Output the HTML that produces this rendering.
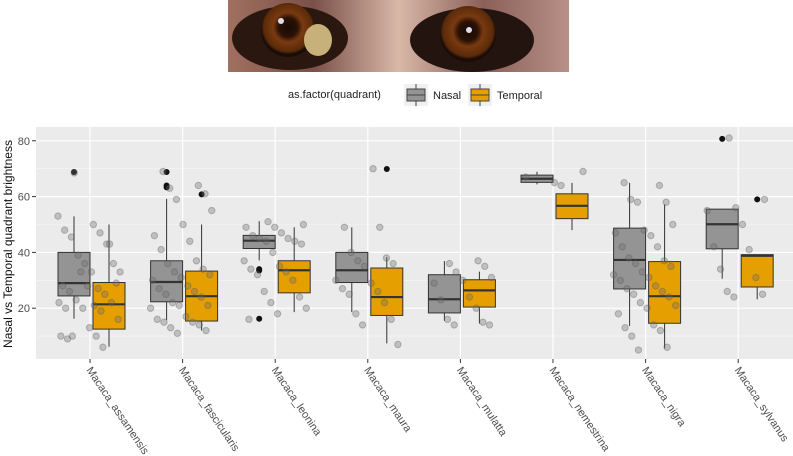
<!DOCTYPE html>
<html><head><meta charset="utf-8"><style>
body{margin:0;background:#fff;width:793px;height:456px;overflow:hidden}
svg{display:block;font-family:"Liberation Sans",sans-serif}
</style></head><body>
<svg id="c" width="793" height="456" xmlns="http://www.w3.org/2000/svg">
<defs>
<radialGradient id="iris" cx="50%" cy="45%" r="50%"><stop offset="0" stop-color="#1a0a04"/><stop offset="0.35" stop-color="#2a1206"/><stop offset="0.55" stop-color="#7a3a10"/><stop offset="0.9" stop-color="#5a2a0a"/><stop offset="1" stop-color="#1a0c06"/></radialGradient>
<linearGradient id="skin" x1="0" x2="1"><stop offset="0" stop-color="#a07060"/><stop offset="0.25" stop-color="#7a5048"/><stop offset="0.5" stop-color="#d9b8a8"/><stop offset="0.75" stop-color="#8a6058"/><stop offset="1" stop-color="#b89088"/></linearGradient>
</defs>
<g>
<rect x="228" y="0" width="341" height="72" fill="url(#skin)"/>
<ellipse cx="290" cy="38" rx="58" ry="32" fill="#2a1810"/>
<ellipse cx="472" cy="40" rx="62" ry="32" fill="#241410"/>
<circle cx="288" cy="30" r="27" fill="url(#iris)"/>
<ellipse cx="318" cy="40" rx="14" ry="16" fill="#c8b07a"/>
<circle cx="468" cy="34" r="28" fill="url(#iris)"/>
<circle cx="281" cy="21" r="3" fill="#dde"/><circle cx="469" cy="30" r="3" fill="#dde"/>
</g>
<g>
<text x="288" y="98" font-size="11" fill="#222">as.factor(quadrant)</text>
<g>
<rect x="404" y="84" width="24" height="22" fill="#f0f0f0"/>
<line x1="416" y1="84" x2="416" y2="106" stroke="#444"/>
<rect x="407" y="89" width="18" height="12" fill="#949494" stroke="#444"/>
<line x1="407" y1="95" x2="425" y2="95" stroke="#444"/>
<text x="433" y="99" font-size="11" fill="#222">Nasal</text></g>
<g>
<rect x="468" y="84" width="24" height="22" fill="#f0f0f0"/>
<line x1="480" y1="84" x2="480" y2="106" stroke="#444"/>
<rect x="471" y="89" width="18" height="12" fill="#e69f00" stroke="#444"/>
<line x1="471" y1="95" x2="489" y2="95" stroke="#444"/>
<text x="497" y="99" font-size="11" fill="#222">Temporal</text></g>
</g>
<rect x="36" y="127" width="757" height="232" fill="#ebebeb"/>
<g id="grid"></g><g id="marks"></g><g id="axes"></g>
<text transform="translate(12,244) rotate(-90)" text-anchor="middle" font-size="12" fill="#111">Nasal vs Temporal quadrant brightness</text>
</svg>
<script>
const categories=["Macaca_assamensis","Macaca_fascicularis","Macaca_leonina","Macaca_maura","Macaca_mulatta","Macaca_nemestrina","Macaca_nigra","Macaca_sylvanus"];
const yTicks=[20,40,60,80];
// [lowerWhisker, q1, median, q3, upperWhisker]
const nasalStats=[[16.2,24.4,29,40,52.9],[15.7,22.3,29.4,37,59.2],[37.1,41.4,44.2,46.1,51.2],[18.6,29.2,33.6,40,49],[15.5,18.3,23.2,32,36.9],[64.4,65.1,66.4,67.7,68.9],[13.6,26.9,37.3,48.7,64.9],[30.6,41.3,50.1,55.5,55.5]];
const temporalStats=[[6.2,12.5,21.4,29.2,50],[12,15.4,24.3,33.3,50],[18.6,25.5,33.6,37,49],[7.4,17.4,24,34.4,38.3],[14.5,20.4,26.4,30.2,33.1],[48,52.1,56.7,61,64.9],[5.6,14.6,24.3,36.7,57.2],[23.2,27.6,38.8,39.2,39.2]];
const nasalOutliers=[[68.8],[68.8,64,63.3],[33.5,34,16.2],[],[],[],[],[80.7]];
const temporalOutliers=[[],[60.8],[],[69.9],[],[],[],[59]];
const jitterPoints=[
[53,50,48,47,45.5,43,39,36,36,33,33,28,27,26,25,23,22,20,16,13,10,10,9,6,68.5,43,33,29,28,22,21,20,19,10],
[69,64,63,61,59,55,50,46,44,41,37,36,34,33,32,31,30,28,27,26,25,24,22,21,21,20,17,16,15,15,14,13,12,11],
[51,50,49,49,47,46,45,45,44,44,43,40,37,35,34,33,32,30,26,24,22,20,18,16],
[70,49,49,40,38,37,36,35,30,29,27,26,25,22,18,16,14,7],
[37,36,35,33,31,30,29,24,23,20,16,15,14,14],
[69,65,67,64],
[65,64,59,58,58,50,48,47,46,42,42,38,37,36,35,33,32,31,30,28,27,26,25,24,22,21,20,18,14,13,12,10,6,5],
[81,59,56,55,50,42,41,34,31,26,25,24]];
const NS="http://www.w3.org/2000/svg";
const yS=v=>364-v*2.79;
const xS=i=>90+i*92.6;
function mk(t,a,p){const e=document.createElementNS(NS,t);for(const k in a)e.setAttribute(k,a[k]);p.appendChild(e);return e;}
const grid=document.getElementById('grid'),marks=document.getElementById('marks'),axes=document.getElementById('axes');
[10,30,50,70].forEach(v=>{const l=mk('line',{x1:36,x2:793,y1:yS(v),y2:yS(v),stroke:'#f6f6f6','stroke-width':0.6},grid);

});
yTicks.forEach(v=>{const l=mk('line',{x1:36,x2:793,y1:yS(v),y2:yS(v),stroke:'#fff','stroke-width':1.2},grid);


const tk=mk('line',{x1:32,x2:36,y1:yS(v),y2:yS(v),stroke:'#333'},axes);


const t=mk('text',{x:30,y:yS(v)+4,'text-anchor':'end','font-size':11,fill:'#4d4d4d'},axes);t.textContent=v;

});
categories.forEach((c,i)=>{const x=xS(i);
const l=mk('line',{x1:x,x2:x,y1:127,y2:359,stroke:'#fff','stroke-width':1.2},grid);


const tk=mk('line',{x1:x,x2:x,y1:359,y2:363,stroke:'#333'},axes);


const t=mk('text',{transform:`translate(${x-4},${370}) rotate(56)`,'font-size':11,fill:'#4d4d4d'},axes);t.textContent=c;

});
function box(s,cx,fill,name,outs){const w=32;const g=mk('g',{},marks);


mk('line',{x1:cx,x2:cx,y1:yS(s[0]),y2:yS(s[4]),stroke:'#333','stroke-width':1},g);
mk('rect',{x:cx-w/2,y:yS(s[3]),width:w,height:yS(s[1])-yS(s[3]),fill:fill,stroke:'#333','stroke-width':1},g);
mk('line',{x1:cx-w/2,x2:cx+w/2,y1:yS(s[2]),y2:yS(s[2]),stroke:'#333','stroke-width':2.2},g);
outs.forEach(o=>{const p=mk('circle',{cx:cx,cy:yS(o),r:3,fill:'#111'},g);

});}
categories.forEach((c,i)=>{const x=xS(i);
box(nasalStats[i],x-16,'#949494','nasal-box-'+i,nasalOutliers[i]);
box(temporalStats[i],x+19,'#e69f00','temporal-box-'+i,temporalOutliers[i]);
jitterPoints[i].forEach((v,k)=>{const off=((k*37+i*13)%67)/67*64-32;
const p=mk('circle',{cx:x+off,cy:yS(v),r:3.2,fill:'#6e6e6e','fill-opacity':0.35,stroke:'#555','stroke-opacity':0.35},marks);

});});
</script>
</body></html>
